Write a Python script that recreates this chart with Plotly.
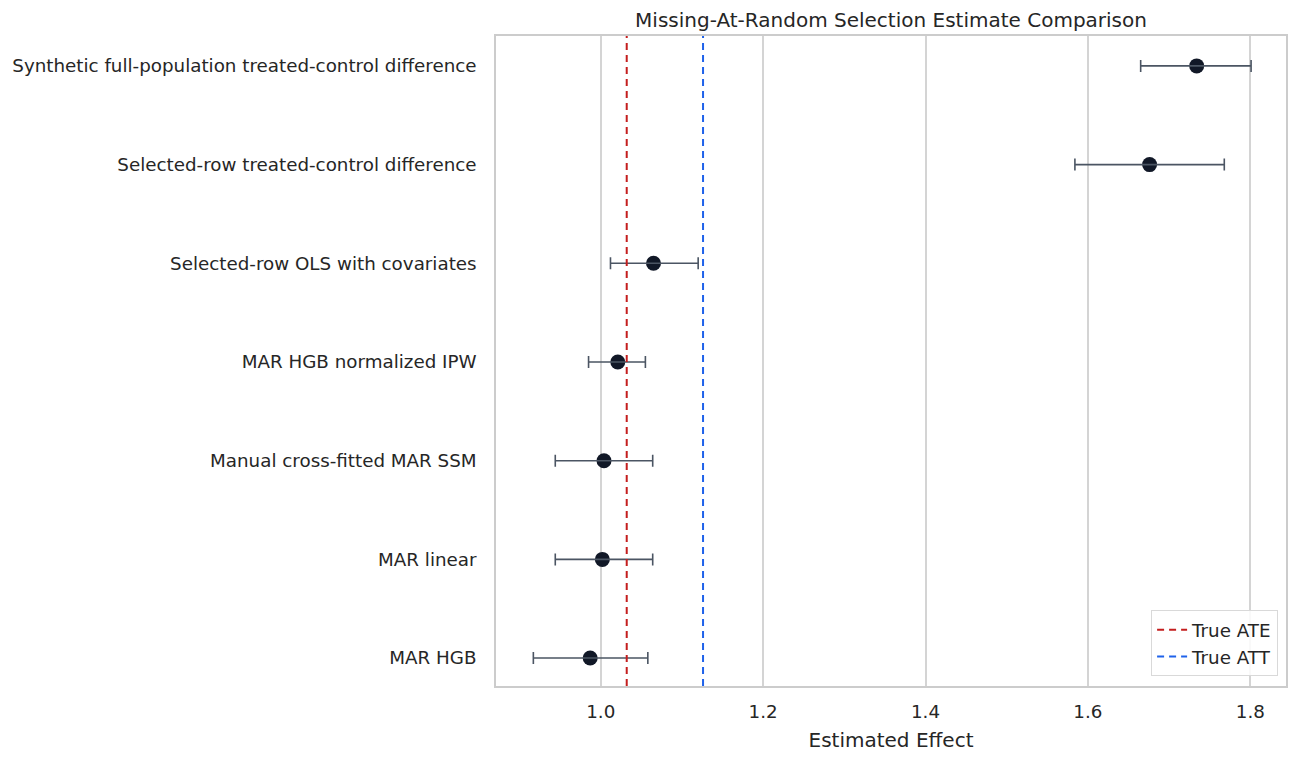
import plotly.graph_objects as go

# Estimates (top to bottom)
methods = [
    "Synthetic full-population treated-control difference",
    "Selected-row treated-control difference",
    "Selected-row OLS with covariates",
    "MAR HGB normalized IPW",
    "Manual cross-fitted MAR SSM",
    "MAR linear",
    "MAR HGB",
]
estimates = [1.734, 1.676, 1.065, 1.021, 1.004, 1.002, 0.987]
ci_low = [1.665, 1.584, 1.012, 0.985, 0.944, 0.944, 0.917]
ci_high = [1.801, 1.768, 1.120, 1.055, 1.064, 1.064, 1.058]

true_ate = 1.032
true_att = 1.126

FONT = "DejaVu Sans"
TEXT = "#262626"
GRID = "#d4d4d4"
RED = "#c41e1e"
BLUE = "#1f62ea"
DASH = "7px,5px"

err_plus = [h - e for h, e in zip(ci_high, estimates)]
err_minus = [e - l for e, l in zip(estimates, ci_low)]

fig = go.Figure()

# reference lines (legend entries via dummy traces)
fig.add_vline(x=true_ate, line=dict(color=RED, width=2, dash=DASH))
fig.add_vline(x=true_att, line=dict(color=BLUE, width=2, dash=DASH))

fig.add_trace(go.Scatter(
    x=estimates, y=methods, mode="markers",
    marker=dict(size=15, color="#111827"),
    showlegend=False,
))
# error bars on top of the points, like matplotlib draws them
fig.add_trace(go.Scatter(
    x=estimates, y=methods, mode="markers",
    marker=dict(size=1, opacity=0),
    error_x=dict(type="data", symmetric=False, array=err_plus, arrayminus=err_minus,
                 color="#4b5563", thickness=1.6, width=6),
    showlegend=False, hoverinfo="skip",
))

fig.add_trace(go.Scatter(x=[None], y=[None], mode="lines", name="True ATE",
                         line=dict(color=RED, width=2, dash=DASH)))
fig.add_trace(go.Scatter(x=[None], y=[None], mode="lines", name="True ATT",
                         line=dict(color=BLUE, width=2, dash=DASH)))

fig.update_layout(
    width=1284, height=744,
    margin=dict(l=486, r=4, t=28, b=64),
    plot_bgcolor="white", paper_bgcolor="white",
    font=dict(family=FONT, size=18.3, color=TEXT),
    title=dict(text="Missing-At-Random Selection Estimate Comparison",
               x=0.6877, xanchor="center", y=0.984, yanchor="middle",
               font=dict(size=20, color=TEXT)),
    legend=dict(x=0.99, y=0.015, xanchor="right", yanchor="bottom",
                bgcolor="rgba(255,255,255,0.85)", bordercolor="#d9d9d9", borderwidth=1,
                font=dict(size=18.3)),
    xaxis=dict(
        range=[0.871, 1.844], tickvals=[1.0, 1.2, 1.4, 1.6, 1.8], ticktext=["1.0", "1.2", "1.4", "1.6", "1.8"],
        showgrid=True, gridcolor=GRID, gridwidth=1.5, zeroline=False,
        showline=True, linecolor="#cccccc", linewidth=1.5, mirror=True,
        ticks="", ticklabelstandoff=8,
        title=dict(text="Estimated Effect", font=dict(size=20), standoff=12),
    ),
    yaxis=dict(
        categoryorder="array", categoryarray=methods,
        range=[6.283, -0.303], showgrid=False, zeroline=False,
        showline=True, linecolor="#cccccc", linewidth=1.5, mirror=True,
        ticks="", ticklabelstandoff=14,
    ),
)

fig.write_html("out.html")
